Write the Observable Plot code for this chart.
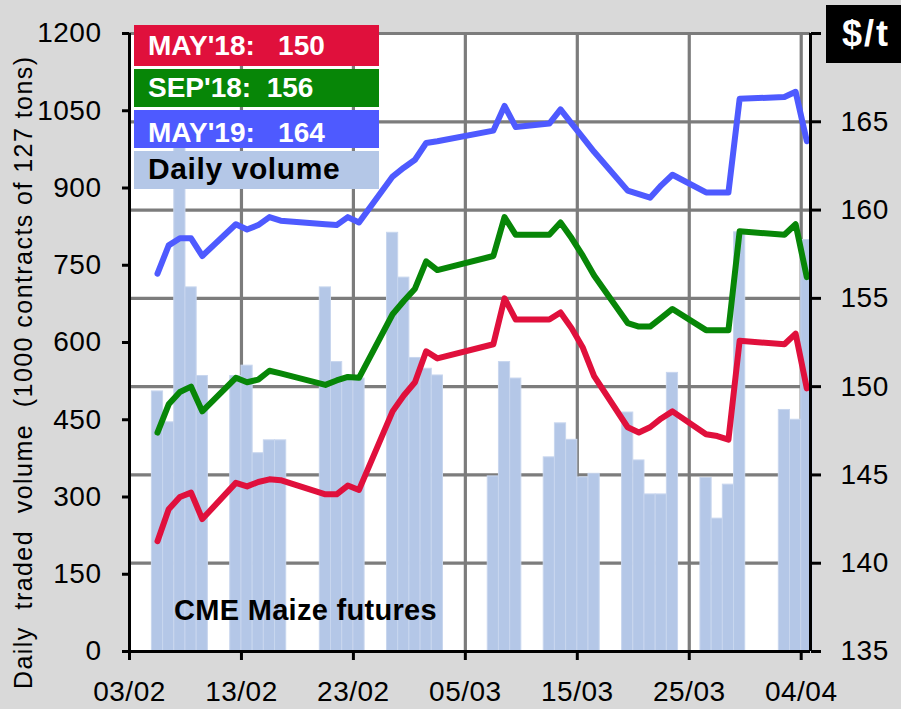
<!DOCTYPE html>
<html><head><meta charset="utf-8">
<script src="https://cdn.jsdelivr.net/npm/d3@7"></script>
<script src="https://cdn.jsdelivr.net/npm/@observablehq/plot@0.6"></script>
<style>
html,body{margin:0;padding:0;background:#d9d9d9;}
#chart{width:901px;height:709px;overflow:hidden;}
</style>
</head><body><div id="chart"></div>
<script>
// ---- data ----
const dates = [
  "2018-02-05","2018-02-06","2018-02-07","2018-02-08","2018-02-09",
  "2018-02-12","2018-02-13","2018-02-14","2018-02-15","2018-02-16",
  "2018-02-20","2018-02-21","2018-02-22","2018-02-23",
  "2018-02-26","2018-02-27","2018-02-28","2018-03-01","2018-03-02",
  "2018-03-07","2018-03-08","2018-03-09",
  "2018-03-12","2018-03-13","2018-03-14","2018-03-15","2018-03-16",
  "2018-03-19","2018-03-20","2018-03-21","2018-03-22","2018-03-23",
  "2018-03-26","2018-03-27","2018-03-28","2018-03-29",
  "2018-04-02","2018-04-03","2018-04-04"
];
const volume = [
  505, 445, 990, 707, 535,
  535, 555, 385, 410, 410,
  707, 562, 530, 530,
  813, 726, 570, 549, 536,
  340, 562, 530,
  377, 443, 411, 338, 345,
  464, 371, 305, 305, 541,
  337, 258, 324, 814,
  469, 450, 799
];
const may18 = [
  141.25, 143.05, 143.75, 144.0, 142.5,
  144.55, 144.35, 144.6, 144.75, 144.7,
  143.9, 143.9, 144.4, 144.15,
  148.6, 149.5, 150.25, 152.0, 151.6,
  152.4, 155.0, 153.8,
  153.8, 154.2, 153.3, 152.2, 150.6,
  147.7, 147.4, 147.7, 148.2, 148.6,
  147.3, 147.2, 147.0, 152.6,
  152.4, 153.0, 149.9
];
const sep18 = [
  147.4, 149.0, 149.7, 150.0, 148.6,
  150.5, 150.25, 150.4, 150.9, 150.75,
  150.1, 150.35, 150.55, 150.5,
  154.1, 154.85, 155.55, 157.1, 156.6,
  157.4, 159.6, 158.6,
  158.6, 159.3, 158.4, 157.4, 156.3,
  153.6, 153.4, 153.4, 153.9, 154.4,
  153.2, 153.2, 153.2, 158.8,
  158.6, 159.2, 156.2
];
const may19 = [
  156.4, 158.0, 158.4, 158.4, 157.4,
  159.2, 158.9, 159.15, 159.6, 159.4,
  159.2, 159.15, 159.6, 159.3,
  161.9, 162.4, 162.85, 163.8, 163.9,
  164.5, 165.9, 164.7,
  164.9, 165.7, 164.9, 164.1, 163.3,
  161.1, 160.9, 160.7, 161.4, 162.0,
  161.0, 161.0, 161.0, 166.3,
  166.4, 166.7, 163.9
];
const xTickLabels = ["03/02","13/02","23/02","05/03","15/03","25/03","04/04"];
const leftTicks = [0,150,300,450,600,750,900,1050,1200];
const rightTicks = [135,140,145,150,155,160,165,170];
const legendLabels = ["MAY'18:   150","SEP'18:  156","MAY'19:   164","Daily volume"];

const RED = "#E0103C", GREEN = "#078607", BLUE = "#4E5AFF", BAR = "#B4C7E7", GRID = "#7c7c7c";

// ---- build ----
const DAY = 864e5;
const parse = d3.utcParse("%Y-%m-%d");
const rows = dates.map((d, i) => ({date: parse(d), vol: volume[i], may18: may18[i], sep18: sep18[i], may19: may19[i]}));
const xTicks = xTickLabels.map(s => d3.utcParse("%d/%m/%Y")(s + "/2018"));
const xStart = xTicks[0];
const xEnd = new Date(+xTicks[xTicks.length - 1] + 0.83 * DAY);
const pMin = rightTicks[0], pMax = rightTicks[rightTicks.length - 1], vMax = leftTicks[leftTicks.length - 1];
const toV = p => (p - pMin) / (pMax - pMin) * vMax;
const mid = d => new Date(+d.date + DAY / 2);

const lineOpts = {strokeWidth: 6, strokeLinejoin: "round", strokeLinecap: "round"};

const plot = Plot.plot({
  width: 901, height: 709,
  marginLeft: 129, marginRight: 91, marginTop: 33, marginBottom: 58,
  style: {background: "#d9d9d9", fontFamily: "'Liberation Sans', Arial, sans-serif", color: "black", letterSpacing: "0.5px"},
  x: {type: "utc", domain: [xStart, xEnd]},
  y: {domain: [0, vMax]},
  marks: [
    Plot.frame({fill: "white", stroke: null}),
    Plot.ruleY(rightTicks.slice(1).map(toV), {stroke: GRID, strokeWidth: 3.2}),
    Plot.ruleX(xTicks.slice(1), {stroke: GRID, strokeWidth: 3.2}),
    Plot.rectY(rows, {x1: "date", x2: d => new Date(+d.date + DAY), y: "vol", fill: BAR, stroke: "#c8d6ee", strokeWidth: 1}),
    Plot.line(rows, {x: mid, y: d => toV(d.may19), stroke: BLUE, ...lineOpts}),
    Plot.line(rows, {x: mid, y: d => toV(d.sep18), stroke: GREEN, ...lineOpts}),
    Plot.line(rows, {x: mid, y: d => toV(d.may18), stroke: RED, ...lineOpts}),
    Plot.ruleX([xStart], {stroke: "black", strokeWidth: 3}),
    Plot.ruleX([xEnd], {stroke: "black", strokeWidth: 3}),
    Plot.ruleY([0], {stroke: "black", strokeWidth: 3}),
    Plot.axisY(leftTicks, {anchor: "left", tickSize: 7, tickPadding: 21, fontSize: 28, label: null, strokeWidth: 3, tickFormat: d => String(d)}),
    Plot.axisY(rightTicks.map(toV), {anchor: "right", tickSize: 10, tickPadding: 20, fontSize: 28, label: null, strokeWidth: 3,
      tickFormat: v => { const p = Math.round(pMin + v / vMax * (pMax - pMin)); return p === pMax ? "" : String(p); }}),
    Plot.axisX(xTicks, {anchor: "bottom", tickSize: 9, tickPadding: 21, fontSize: 28, label: null, strokeWidth: 3, tickFormat: d3.utcFormat("%d/%m")})
  ]
});

document.getElementById("chart").appendChild(plot);
const svg = d3.select(plot);
const FONT = "'Liberation Sans', Arial, sans-serif";

// left axis title
svg.append("text")
  .attr("transform", "translate(32,689) rotate(-90)")
  .attr("text-anchor", "start")
  .attr("font-family", FONT).attr("font-size", 25).attr("fill", "black")
  .attr("textLength", 632).attr("lengthAdjust", "spacing")
  .style("white-space", "pre").style("letter-spacing", "0px")
  .text("Daily  traded  volume  (1000 contracts of 127 tons)");

// in-plot caption
svg.append("text")
  .attr("x", 174).attr("y", 620).attr("text-anchor", "start")
  .attr("font-family", FONT).attr("font-size", 29).attr("font-weight", "bold").attr("fill", "black")
  .style("letter-spacing", "0.3px")
  .text("CME Maize futures");

// unit box
svg.append("rect").attr("x", 826).attr("y", 5).attr("width", 75).attr("height", 58).attr("fill", "black");
svg.append("text").attr("x", 866).attr("y", 46).attr("text-anchor", "middle")
  .attr("font-family", FONT).attr("font-size", 36).attr("font-weight", "bold").attr("fill", "white")
  .style("letter-spacing", "2px")
  .text("$/t");

// legend
const legendFill = [RED, GREEN, BLUE, BAR];
const legendText = ["white", "white", "white", "black"];
const legendBoxes = [[25, 41], [69, 38], [110, 38], [151, 38]];
const legendBase = [55, 97, 142, 179];
const legendSize = [28, 28, 28, 30];
legendLabels.forEach((lab, i) => {
  svg.append("rect").attr("x", 134).attr("y", legendBoxes[i][0]).attr("width", 245).attr("height", legendBoxes[i][1]).attr("fill", legendFill[i]);
  svg.append("text").attr("x", 148).attr("y", legendBase[i]).attr("text-anchor", "start")
    .attr("font-family", FONT).attr("font-size", legendSize[i]).attr("font-weight", "bold").attr("fill", legendText[i])
    .style("white-space", "pre").style("letter-spacing", i === 3 ? "0.6px" : "0px")
    .text(lab);
});
</script>
</body></html>
